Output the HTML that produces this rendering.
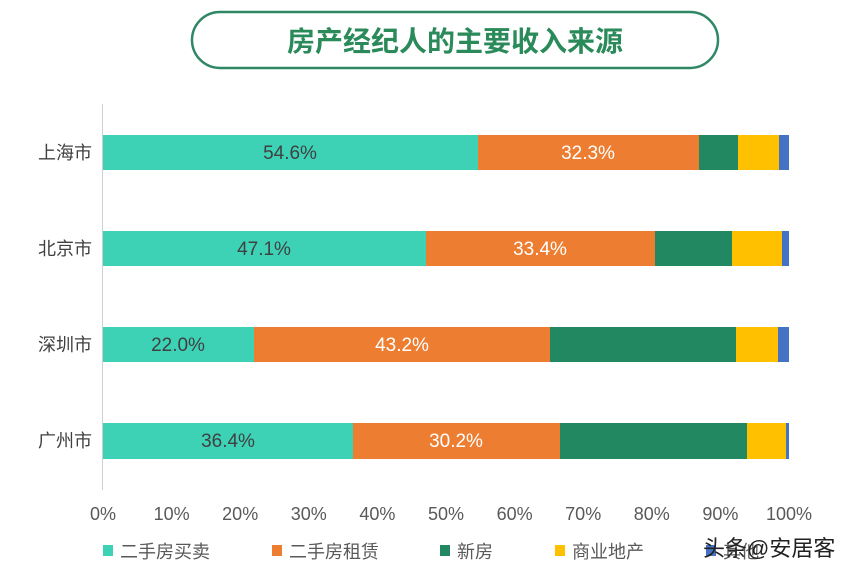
<!DOCTYPE html>
<html><head><meta charset="utf-8"><style>
body{margin:0;background:#fff}
svg{display:block}
text{font-family:"Liberation Sans","Noto Sans CJK SC",sans-serif}
</style></head><body>
<svg width="857" height="575" viewBox="0 0 857 575" xmlns="http://www.w3.org/2000/svg">
<rect x="192" y="12" width="526" height="56" rx="28" fill="#fff" stroke="#2e8865" stroke-width="2.5"/>
<text x="455" y="51" text-anchor="middle" font-size="28" font-weight="bold" fill="#2a8a5a">房产经纪人的主要收入来源</text>
<line x1="102.5" y1="104" x2="102.5" y2="490" stroke="#d0d0d0" stroke-width="1"/>
<g font-size="18" fill="#404040" text-anchor="end">
<text x="92" y="159">上海市</text>
<text x="92" y="255">北京市</text>
<text x="92" y="351">深圳市</text>
<text x="92" y="447">广州市</text>
</g>
<rect x="103" y="135" width="375" height="35" fill="#3dd2b6"/>
<rect x="478" y="135" width="221" height="35" fill="#ed7d31"/>
<rect x="699" y="135" width="39" height="35" fill="#228862"/>
<rect x="738" y="135" width="41" height="35" fill="#ffc000"/>
<rect x="779" y="135" width="10" height="35" fill="#4472c4"/>
<rect x="103" y="231" width="323" height="35" fill="#3dd2b6"/>
<rect x="426" y="231" width="229" height="35" fill="#ed7d31"/>
<rect x="655" y="231" width="77" height="35" fill="#228862"/>
<rect x="732" y="231" width="50" height="35" fill="#ffc000"/>
<rect x="782" y="231" width="7" height="35" fill="#4472c4"/>
<rect x="103" y="327" width="151" height="35" fill="#3dd2b6"/>
<rect x="254" y="327" width="296" height="35" fill="#ed7d31"/>
<rect x="550" y="327" width="186" height="35" fill="#228862"/>
<rect x="736" y="327" width="42" height="35" fill="#ffc000"/>
<rect x="778" y="327" width="11" height="35" fill="#4472c4"/>
<rect x="103" y="423" width="250" height="36" fill="#3dd2b6"/>
<rect x="353" y="423" width="207" height="36" fill="#ed7d31"/>
<rect x="560" y="423" width="187" height="36" fill="#228862"/>
<rect x="747" y="423" width="39" height="36" fill="#ffc000"/>
<rect x="786" y="423" width="3" height="36" fill="#4472c4"/>
<g font-size="19" text-anchor="middle">
<text x="290" y="159" fill="#404040">54.6%</text>
<text x="588" y="159" fill="#fff">32.3%</text>
<text x="264" y="255" fill="#404040">47.1%</text>
<text x="540" y="255" fill="#fff">33.4%</text>
<text x="178" y="351" fill="#404040">22.0%</text>
<text x="402" y="351" fill="#fff">43.2%</text>
<text x="228" y="447" fill="#404040">36.4%</text>
<text x="456" y="447" fill="#fff">30.2%</text>
</g>
<g font-size="18" fill="#595959" text-anchor="middle">
<text x="103" y="520">0%</text><text x="171.6" y="520">10%</text><text x="240.2" y="520">20%</text>
<text x="308.8" y="520">30%</text><text x="377.4" y="520">40%</text><text x="446" y="520">50%</text>
<text x="514.6" y="520">60%</text><text x="583.2" y="520">70%</text><text x="651.8" y="520">80%</text>
<text x="720.4" y="520">90%</text><text x="789" y="520">100%</text>
</g>
<g font-size="18" fill="#595959">
<rect x="103" y="545" width="10" height="11" fill="#3dd2b6"/><text x="120" y="558">二手房买卖</text>
<rect x="272" y="545" width="10" height="11" fill="#ed7d31"/><text x="289" y="558">二手房租赁</text>
<rect x="440" y="545" width="10" height="11" fill="#228862"/><text x="457" y="558">新房</text>
<rect x="555" y="545" width="10" height="11" fill="#ffc000"/><text x="572" y="558">商业地产</text>
<rect x="706" y="545" width="10" height="11" fill="#4472c4"/><text x="723" y="558">其他</text>
</g>
<text x="703" y="556" font-size="22" fill="#222">头条@安居客</text>
</svg>
</body></html>
